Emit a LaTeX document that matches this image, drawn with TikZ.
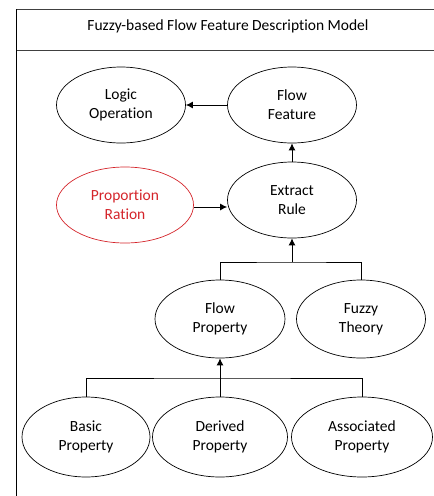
\documentclass[tikz,border=0pt]{standalone}
\usepackage{fontspec}
\setmainfont{Carlito}[Ligatures=NoCommon]
\usepackage{xcolor}
\usetikzlibrary{positioning,shapes,arrows.meta}
\definecolor{propred}{RGB}{212,36,42}

\begin{document}
\begin{tikzpicture}[x=1pt,y=-1pt]
\tikzstyle{every node}+=[inner sep=0pt]
\tikzstyle{oval}=[ellipse, draw=black, line width=0.7pt, minimum width=129pt, minimum height=76pt, align=center, font=\fontsize{15.5}{19}\selectfont]
\tikzstyle{link}=[line width=1pt, -{Latex[length=7pt,width=7pt]}]
\clip (0,0) rectangle (434,496);
% frame and heading
\draw [line width=0.9pt, black!75] (16,9) -- (440,9);
\draw [line width=0.9pt, black!75] (16,50) -- (440,50);
\draw [line width=0.9pt, black] (16,9) -- (16,500);
\node (title) at (228,26) {\fontsize{15.5}{18}\selectfont Fuzzy-based Flow Feature Description Model};
% upper part
\node [oval] (lo) at (121,105) {Logic\\Operation};
\node [oval] (ff) at (292,105) {Flow\\Feature};
\node [oval, draw=propred, text=propred, minimum width=137pt] (pr) at (125,205) {Proportion\\Ration};
\node [oval] (er) at (292,200) {Extract\\Rule};
\draw [link] (ff) -- (lo);
\draw [link] (pr.east |- 0,207) -- (er.west |- 0,207);
\draw [link] (er) -- (ff);
% middle row
\node [oval, minimum width=130pt, minimum height=78pt] (fp) at (220,319) {Flow\\Property};
\node [oval, minimum width=129pt, minimum height=78pt] (ft) at (361,319) {Fuzzy\\Theory};
\coordinate (j1) at (292,262);
\draw [line width=1pt] (fp.north) |- (j1) -| (ft.north);
\draw [link] (j1) -- (er.south);
% bottom row
\node [oval, minimum width=128pt, minimum height=80pt] (bp) at (86,437) {Basic\\Property};
\node [oval, minimum width=135pt, minimum height=80pt] (dp) at (220,437) {Derived\\Property};
\node [oval, minimum width=141pt, minimum height=80pt] (ap) at (362,437) {Associated\\Property};
\coordinate (j2) at (220,378);
\draw [line width=1pt] (bp.north) |- (j2) -| (ap.north);
\draw [link] (dp.north) -- (fp.south);
\end{tikzpicture}
\end{document}
